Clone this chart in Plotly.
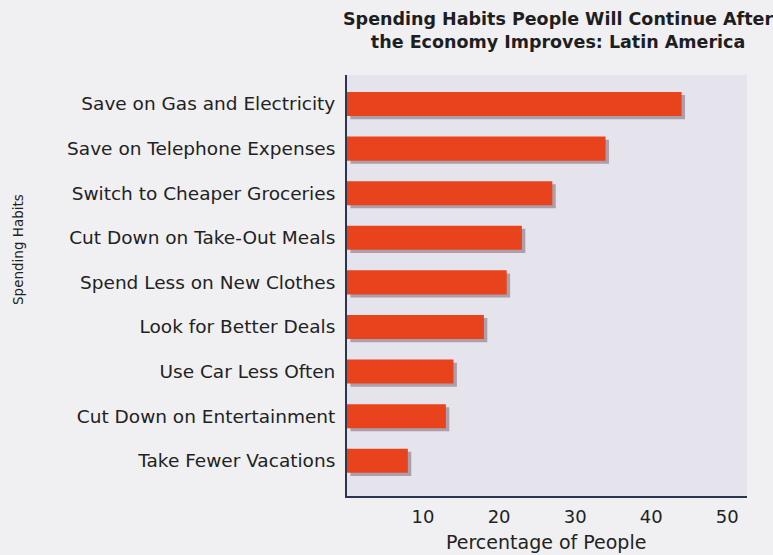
import plotly.graph_objects as go

habits = [
    "Save on Gas and Electricity",
    "Save on Telephone Expenses",
    "Switch to Cheaper Groceries",
    "Cut Down on Take-Out Meals",
    "Spend Less on New Clothes",
    "Look for Better Deals",
    "Use Car Less Often",
    "Cut Down on Entertainment",
    "Take Fewer Vacations",
]
percentages = [44, 34, 27, 23, 21, 18, 14, 13, 8]
x_ticks = [10, 20, 30, 40, 50]

positions = list(range(len(habits)))

W, H = 773, 555
ML, MR, MT, MB = 347, 26, 75, 59
PW, PH = W - ML - MR, H - MT - MB

FONT = "DejaVu Sans, Liberation Sans, Arial, sans-serif"
TXT = "#222222"

fig = go.Figure()
# soft shadow behind bars
fig.add_trace(go.Bar(
    x=percentages, y=positions, orientation="h",
    marker=dict(color="rgba(80,50,60,0.38)", line=dict(width=0)),
    width=0.54, offset=-0.2, base=0.45, hoverinfo="skip", showlegend=False,
))
fig.add_trace(go.Bar(
    x=percentages, y=positions, orientation="h",
    marker=dict(color="#E8431D", line=dict(width=0)),
    width=0.54, showlegend=False,
))

fig.update_layout(
    width=W, height=H,
    margin=dict(l=ML, r=MR, t=MT, b=MB),
    paper_bgcolor="#F0F0F2",
    plot_bgcolor="#E5E3EC",
    barmode="overlay",
    font=dict(family=FONT, color=TXT),
)
fig.update_xaxes(
    range=[0, 52.6], tickvals=x_ticks, ticktext=[str(t) for t in x_ticks],
    showgrid=False, zeroline=False,
    showline=True, linecolor="#2B3550", linewidth=2,
    ticks="", ticklabelstandoff=3, tickfont=dict(family=FONT, size=18, color=TXT),
)
fig.update_yaxes(
    range=[8.79, -0.65], tickvals=positions, ticktext=habits,
    showgrid=False, zeroline=False,
    showline=True, linecolor="#2B3550", linewidth=2,
    ticks="", ticklabelstandoff=6, tickfont=dict(family=FONT, size=18.5, color=TXT),
)
# chart title
fig.add_annotation(
    text="<b>Spending Habits People Will Continue After<br>the Economy Improves: Latin America</b>",
    xref="paper", yref="paper",
    x=(558 - ML) / PW, y=(H - MB - 30) / PH,
    xanchor="center", yanchor="middle", align="center", showarrow=False,
    font=dict(family=FONT, size=17.5, color="#1E1E1E"),
)
fig.add_annotation(
    text="Spending Habits", textangle=-90,
    xref="paper", yref="paper",
    x=(18 - ML) / PW, y=(H - MB - 250) / PH,
    xanchor="center", yanchor="middle", showarrow=False,
    font=dict(family=FONT, size=13.5, color=TXT),
)
fig.add_annotation(
    text="Percentage of People",
    xref="paper", yref="paper",
    x=(546 - ML) / PW, y=-(542 - (H - MB)) / PH,
    xanchor="center", yanchor="middle", showarrow=False,
    font=dict(family=FONT, size=19, color=TXT),
)

fig.write_html(
    "out.html",
    config={"displayModeBar": False},
    post_script="document.body.style.margin='0';document.body.style.background='#F0F0F2';",
)
